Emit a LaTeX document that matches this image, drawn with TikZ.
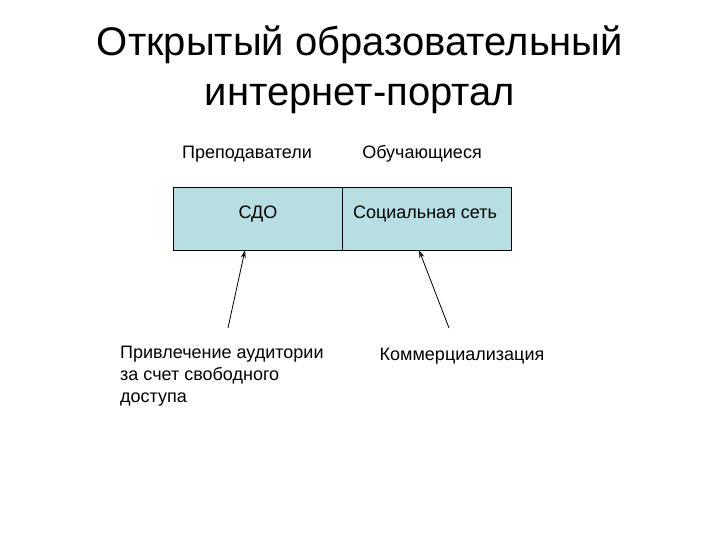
\documentclass[tikz,border=0pt]{standalone}
\usepackage{fontspec}
\setmainfont{Liberation Sans}
\usetikzlibrary{arrows.meta}
\begin{document}
\begin{tikzpicture}[x=1pt,y=-1pt,
  lbl/.style={font=\fontsize{18}{21}\selectfont, inner sep=0pt},
  ttl/.style={font=\fontsize{40}{50}\selectfont, inner sep=0pt, align=center},
  cell/.style={draw=black, line width=0.9pt, fill={rgb,255:red,183;green,222;blue,226}, minimum width=169pt, minimum height=63pt, inner sep=0pt, anchor=north west},
  arr/.style={-{Stealth[length=8pt,width=5pt,open]}, line width=0.8pt}]
\useasboundingbox (0,0) rectangle (720,540);
\node[ttl] (title) at (360,70) {Открытый образовательный\\интернет-портал};
\node[lbl] (t1) at (247,154) {Преподаватели};
\node[lbl] (t2) at (422,154) {Обучающиеся};
\node[cell] (b1) at (173,187) {};
\node[cell] (b2) at (342,187) {};
\node[lbl] (s1) at (258,214) {СДО};
\node[lbl] (s2) at (425,214) {Социальная сеть};
\node[lbl, align=left, anchor=north west, font=\fontsize{18}{22}\selectfont] (n1) at (120,346) {Привлечение аудитории\\за счет свободного\\доступа};
\node[lbl] (n2) at (462,356) {Коммерциализация};
\coordinate (a1) at (228,328);
\coordinate (a2) at (449,328);
\draw[arr] (a1) -- (245,250);
\draw[arr] (a2) -- (419,250);
\end{tikzpicture}
\end{document}
